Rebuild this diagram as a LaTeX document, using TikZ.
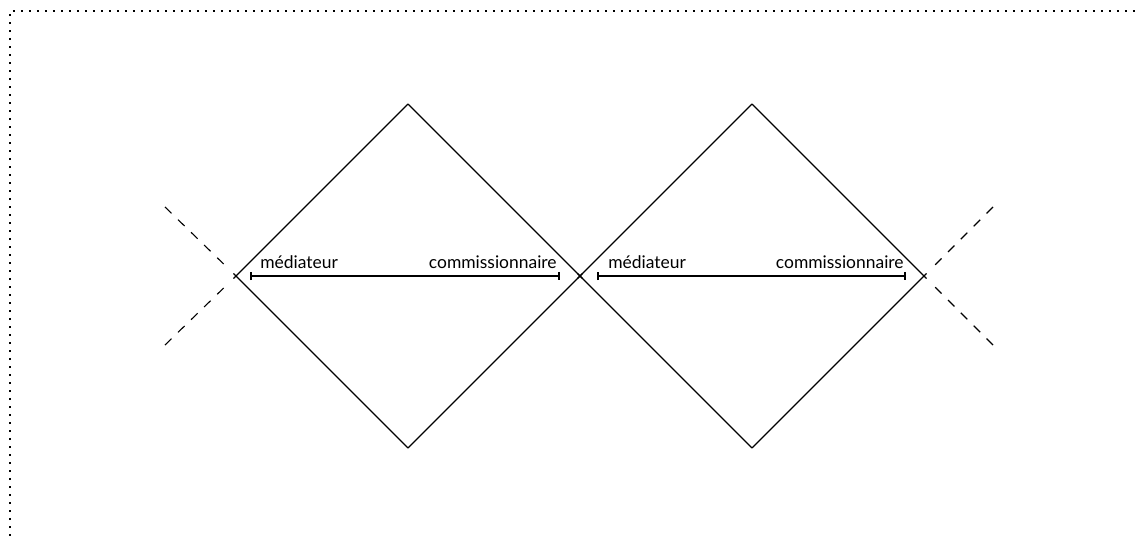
\documentclass[tikz,border=0pt]{standalone}
\usepackage{fontspec}
\setmainfont{Lato}
\usetikzlibrary{arrows.meta}

\begin{document}
\begin{tikzpicture}[
  x=0.55pt, y=-0.55pt,
  cadre/.style={draw=black, line width=1pt, dash pattern=on 1pt off 3.4pt},
  cote/.style={line width=0.6pt, shorten >=-2pt},
  prolong/.style={line width=0.6pt, dash pattern=on 5pt off 5pt, shorten >=7pt},
  barre/.style={{Bar[width=4.5pt, line width=1pt]}-{Bar[width=4.5pt, line width=1pt]}, line width=0.9pt},
  lbl/.style={font=\fontsize{9.6}{11}\selectfont, inner sep=0pt}
]
\useasboundingbox (0,0) rectangle (1138,536);

% Cadre pointillé
\coordinate (coin-b) at (10,536);
\coordinate (coin-d) at (1138,11);
\draw[cadre] (coin-b) |- (coin-d);

% Losange gauche
\coordinate (haut1) at (408,104);
\coordinate (bas1) at (408,448);
\coordinate (gauche1) at (236,276);
\coordinate (milieu) at (580,276);

% Losange droit
\coordinate (haut2) at (752,104);
\coordinate (bas2) at (752,448);
\coordinate (droite2) at (924,276);

% Côtés
\draw[cote] (haut1) -- (gauche1);
\draw[cote] (bas1) -- (gauche1);
\draw[cote] (haut1) -- (milieu);
\draw[cote] (bas1) -- (milieu);
\draw[cote] (haut2) -- (milieu);
\draw[cote] (bas2) -- (milieu);
\draw[cote] (haut2) -- (droite2);
\draw[cote] (bas2) -- (droite2);

% Prolongements
\coordinate (pg-h) at (165,207);
\coordinate (pg-b) at (165,345);
\coordinate (pd-h) at (993,207);
\coordinate (pd-b) at (993,345);
\draw[prolong] (pg-h) -- (gauche1);
\draw[prolong] (pg-b) -- (gauche1);
\draw[prolong] (pd-h) -- (droite2);
\draw[prolong] (pd-b) -- (droite2);

% Segments
\coordinate (deb1) at (250,276);
\coordinate (fin1) at (560,276);
\coordinate (deb2) at (597,276);
\coordinate (fin2) at (906,276);
\draw[barre] (deb1) -- (fin1);
\draw[barre] (deb2) -- (fin2);

% Étiquettes
\node[lbl, anchor=base west] (med1) at (260,268) {médiateur};
\node[lbl, anchor=base east] (com1) at (557,268) {commissionnaire};
\node[lbl, anchor=base west] (med2) at (608,268) {médiateur};
\node[lbl, anchor=base east] (com2) at (904,268) {commissionnaire};

\end{tikzpicture}
\end{document}
